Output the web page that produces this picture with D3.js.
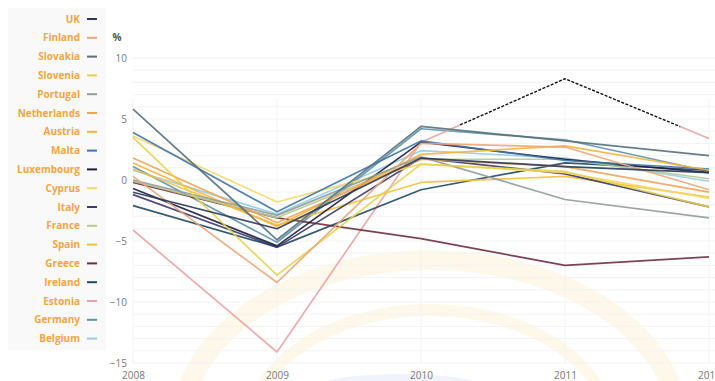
<!DOCTYPE html>
<html>
<head>
<meta charset="utf-8">
<script src="https://cdn.jsdelivr.net/npm/d3@7"></script>
<style>
  html, body { margin: 0; padding: 0; background: #fff; overflow: hidden; }
  svg { display: block; font-family: "Open Sans", "DejaVu Sans", sans-serif; }
</style>
</head>
<body>
<svg id="chart" width="715" height="381"></svg>
<script>
// Real GDP growth, % change on previous year
const years = [2008, 2009, 2010, 2011, 2012];
const yTicks = [-15, -10, -5, 0, 5, 10];

const countries = ["UK", "Finland", "Slovakia", "Slovenia", "Portugal", "Netherlands",
  "Austria", "Malta", "Luxembourg", "Cyprus", "Italy", "France", "Spain", "Greece",
  "Ireland", "Estonia", "Germany", "Belgium"];

const colors = ["#2b3a55", "#eaa67a", "#55707a", "#e6d24a", "#8e9c9a", "#f0a457",
  "#f5b43c", "#3f74a8", "#1d1d3c", "#f6d768", "#3c3a6e", "#b8c68e", "#f3c238", "#6e2f40",
  "#1e4a5e", "#eaa3a3", "#5e93ac", "#93cde6"];

const UK          = [-1.0, -4.0, 1.8, 1.1, 0.6];
const Finland     = [0.3, -8.4, 3.0, 2.7, -0.8];
const Slovakia    = [5.8, -4.9, 4.4, 3.2, 2.0];
const Slovenia    = [3.5, -7.8, 1.3, 0.7, -2.2];
const Portugal    = [0.0, -2.9, 1.9, -1.6, -3.1];
const Netherlands = [1.8, -3.5, 1.7, 1.1, -1.0];
const Austria     = [1.4, -3.8, 2.1, 2.8, 0.8];
const Malta       = [3.9, -2.6, 3.2, 1.6, 0.9];
const Luxembourg  = [-0.7, -5.4, 3.1, 1.7, 0.6];
const Cyprus      = [3.6, -1.8, 1.3, 0.6, -1.5];
const Italy       = [-1.2, -5.5, 1.8, 0.5, -2.2];
const France      = [-0.1, -3.1, 1.7, 1.7, 0.1];
const Spain       = [0.9, -3.7, -0.2, 0.3, -1.4];
const Greece      = [-0.2, -3.1, -4.8, -7.0, -6.3];
const Ireland     = [-2.1, -5.5, -0.8, 1.4, 0.8];
const Estonia     = [-4.1, -14.1, 3.1, 8.3, 3.4];
const Germany     = [1.1, -5.1, 4.2, 3.3, 0.7];
const Belgium     = [0.8, -2.8, 2.4, 1.8, -0.1];

const values = [UK, Finland, Slovakia, Slovenia, Portugal, Netherlands, Austria, Malta,
  Luxembourg, Cyprus, Italy, France, Spain, Greece, Ireland, Estonia, Germany, Belgium];

const series = countries.map((name, i) => ({
  name, color: colors[i],
  points: years.map((yr, j) => ({ year: yr, value: values[i][j] }))
}));

const svg = d3.select("#chart");

const x = d3.scaleLinear().domain([2008, 2012]).range([133, 709]);
const y = d3.scaleLinear().domain([-15, 10]).range([363, 58]);

// faint watermark emblem behind the plot
const mark = svg.append("g").attr("fill", "none").attr("stroke", "#fdf6e0").attr("opacity", 0.7);
mark.append("ellipse").attr("cx", 430).attr("cy", 430).attr("rx", 250).attr("ry", 170).attr("stroke-width", 20);
mark.append("ellipse").attr("cx", 430).attr("cy", 430).attr("rx", 180).attr("ry", 120).attr("stroke-width", 12);
svg.append("ellipse").attr("cx", 400).attr("cy", 386).attr("rx", 80).attr("ry", 12)
  .attr("fill", "#eef0fb").attr("opacity", 0.8);

// legend panel
svg.append("rect").attr("x", 8).attr("y", 8).attr("width", 98).attr("height", 342).attr("fill", "#f9f9f9");

// grid
const grid = svg.append("g");
grid.selectAll("line.h").data(d3.range(-15, 11)).join("line")
  .attr("x1", x(2008)).attr("x2", 715)
  .attr("y1", d => y(d)).attr("y2", d => y(d))
  .attr("stroke", "#f3f3f3").attr("stroke-width", 1);
grid.selectAll("line.v").data(years).join("line")
  .attr("x1", d => x(d)).attr("x2", d => x(d))
  .attr("y1", y(10) + 40).attr("y2", y(-15))
  .attr("stroke", "#f2f2f2").attr("stroke-width", 1);

// y axis labels
const yAxis = svg.append("g")
  .attr("transform", `translate(${x(2008) - 6},0)`)
  .call(d3.axisLeft(y).tickValues(yTicks).tickSize(0).tickPadding(0));
yAxis.select(".domain").remove();
yAxis.selectAll("text").attr("font-size", 10).attr("fill", "#777")
  .attr("font-family", "'Open Sans', sans-serif");

svg.append("text").attr("x", 117).attr("y", y(10) - 17).attr("text-anchor", "middle")
  .attr("font-size", 10).attr("font-weight", "bold").attr("fill", "#555").text("%");

// x axis labels
const xAxis = svg.append("g")
  .attr("transform", `translate(0,${y(-15)})`)
  .call(d3.axisBottom(x).tickValues(years).tickFormat(d3.format("d")).tickSize(0).tickPadding(9));
xAxis.select(".domain").remove();
xAxis.selectAll("text").attr("font-size", 10).attr("fill", "#777")
  .attr("font-family", "'Open Sans', sans-serif");

// lines
const line = d3.line().x(d => x(d.year)).y(d => y(d.value));
const lines = svg.append("g");
lines.selectAll("path").data(series.slice().reverse()).join("path")
  .attr("d", d => line(d.points))
  .attr("fill", "none")
  .attr("stroke", d => d.color)
  .attr("stroke-width", 1.7)
  .attr("stroke-linejoin", "round")
  .attr("opacity", 0.9);

// dashed highlight over part of the Estonia line
const est = series.find(s => s.name === "Estonia");
svg.append("clipPath").attr("id", "estClip").append("rect")
  .attr("x", x(2010.27)).attr("width", x(2011.8) - x(2010.27))
  .attr("y", 0).attr("height", 381);
svg.append("path").attr("d", line(est.points))
  .attr("clip-path", "url(#estClip)")
  .attr("fill", "none").attr("stroke", "#fff").attr("stroke-width", 2.5);
svg.append("path").attr("d", line(est.points))
  .attr("clip-path", "url(#estClip)")
  .attr("fill", "none").attr("stroke", "#111").attr("stroke-width", 1.4)
  .attr("stroke-dasharray", "3,1.5");

// legend
const legend = svg.append("g");
const rowY = i => 19 + i * 18.8;
legend.selectAll("text").data(series).join("text")
  .attr("x", 80).attr("y", (d, i) => rowY(i)).attr("dy", "0.35em")
  .attr("text-anchor", "end").attr("font-size", 10).attr("font-weight", "bold")
  .attr("fill", "#f2a642").attr("font-family", "'Open Sans', sans-serif")
  .text(d => d.name);
legend.selectAll("line").data(series).join("line")
  .attr("x1", 87).attr("x2", 97)
  .attr("y1", (d, i) => rowY(i)).attr("y2", (d, i) => rowY(i))
  .attr("stroke", d => d.color).attr("stroke-width", 2);
</script>
</body>
</html>
